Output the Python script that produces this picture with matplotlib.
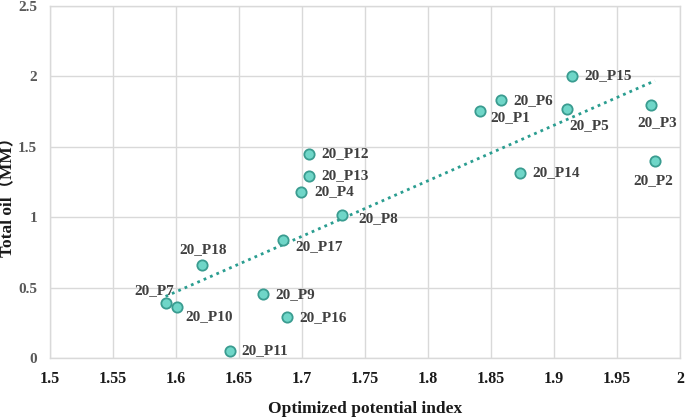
import numpy as np
import matplotlib
matplotlib.use("Agg")
import matplotlib.pyplot as plt

names = ["20_P1", "20_P2", "20_P3", "20_P4", "20_P5", "20_P6", "20_P7", "20_P8", "20_P9",
         "20_P10", "20_P11", "20_P12", "20_P13", "20_P14", "20_P15", "20_P16", "20_P17", "20_P18"]
potential_index = [1.841, 1.980, 1.977, 1.699, 1.910, 1.858, 1.592, 1.732, 1.669,
                   1.601, 1.643, 1.706, 1.706, 1.873, 1.914, 1.688, 1.685, 1.621]
total_oil = [1.756, 1.401, 1.800, 1.181, 1.768, 1.835, 0.391, 1.018, 0.455,
             0.367, 0.052, 1.449, 1.297, 1.318, 2.005, 0.296, 0.840, 0.663]
x_ticks = [1.5, 1.55, 1.6, 1.65, 1.7, 1.75, 1.8, 1.85, 1.9, 1.95, 2.0]
x_tick_labels = ["1.5", "1.55", "1.6", "1.65", "1.7", "1.75", "1.8", "1.85", "1.9", "1.95", "2"]
y_ticks = [0, 0.5, 1, 1.5, 2, 2.5]
y_tick_labels = ["0", "0.5", "1", "1.5", "2", "2.5"]

# label offsets in points (dx, dy, ha, va)
label_pos = {
    "20_P1": (8, -5, "left", "center"),
    "20_P2": (-1, -14, "center", "center"),
    "20_P3": (4, -13, "center", "center"),
    "20_P4": (10, 0, "left", "center"),
    "20_P5": (2, -12, "left", "center"),
    "20_P6": (9, -1, "left", "center"),
    "20_P7": (6, 9, "right", "center"),
    "20_P8": (12, -3, "left", "center"),
    "20_P9": (9, 0, "left", "center"),
    "20_P10": (6, -7, "left", "center"),
    "20_P11": (8, 0, "left", "center"),
    "20_P12": (9, 0, "left", "center"),
    "20_P13": (9, 0, "left", "center"),
    "20_P14": (9, 0, "left", "center"),
    "20_P15": (9, 0, "left", "center"),
    "20_P16": (9, -1, "left", "center"),
    "20_P17": (9, -5, "left", "center"),
    "20_P18": (1, 11, "center", "center"),
}

plt.rcParams['font.family'] = ['Liberation Serif', 'Noto Sans CJK SC']
plt.rcParams['font.weight'] = 'bold'

fig = plt.figure(figsize=(6.85, 4.19), dpi=100)
ax = fig.add_axes([0.0723, 0.1449, 0.9207, 0.8408])

grid_c = "#d9d9d9"
ax.set_xlim(1.5, 2.0)
ax.set_ylim(0, 2.5)
ax.set_xticks(x_ticks)
ax.set_xticklabels(x_tick_labels)
ax.set_yticks(y_ticks)
ax.set_yticklabels(y_tick_labels)
ax.grid(True, color=grid_c, linewidth=1.0)
ax.set_axisbelow(True)
for s in ax.spines.values():
    s.set_color(grid_c)
    s.set_linewidth(1.0)
ax.tick_params(axis="x", length=0, labelsize=11.5, labelcolor="#1a1a1a", pad=9)
ax.tick_params(axis="y", length=0, labelsize=11, labelcolor="#595959", pad=9)
for lab in ax.get_xticklabels() + ax.get_yticklabels():
    lab.set_fontweight("bold")

x = np.array(potential_index)
y = np.array(total_oil)
k, b = np.polyfit(x, y, 1)
xs = np.array([x.min(), x.max()])
ax.plot(xs, k * xs + b, linestyle=(0, (1, 1.5)), color="#2a9d90", linewidth=2.0, zorder=2)

ax.scatter(x, y, s=55, facecolor="#6fd6c8", edgecolor="#3a9c90", linewidth=1.3, zorder=3)

for n, xi, yi in zip(names, x, y):
    dx, dy, ha, va = label_pos[n]
    ax.annotate(n, (xi, yi), xytext=(dx, dy), textcoords="offset points",
                ha=ha, va=va, fontsize=11, fontweight="bold", color="#404040", zorder=4)

ax.set_xlabel("Optimized potential index", fontsize=12.5, fontweight="bold", color="#1a1a1a")
ax.xaxis.set_label_coords(0.5, -0.12)
ax.set_ylabel("Total oil（MM）", fontsize=12.5, fontweight="bold", color="#1a1a1a")
ax.yaxis.set_label_coords(-0.052, 0.47)

fig.savefig("out.png", dpi=100)
